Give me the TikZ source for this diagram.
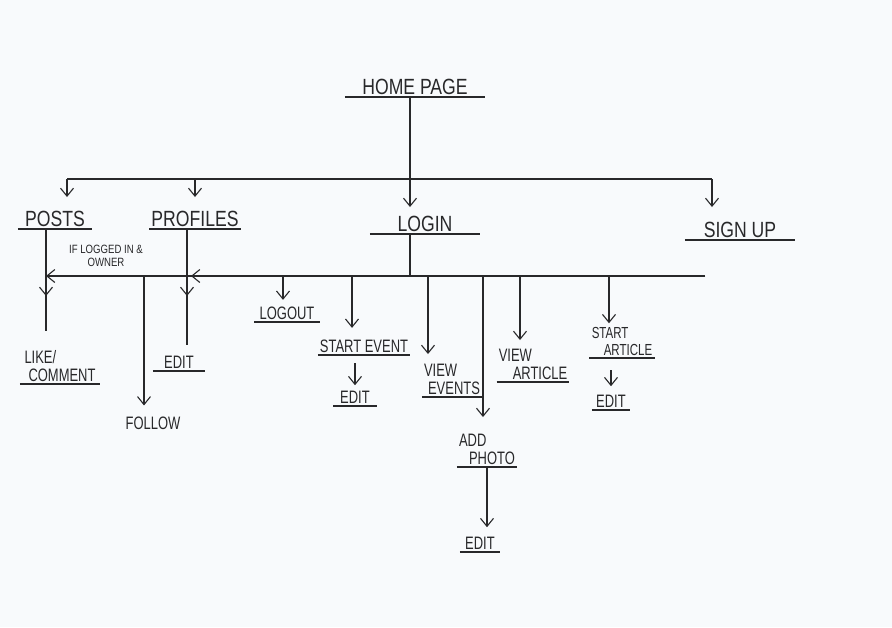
\documentclass[tikz,border=0pt]{standalone}
\usepackage{fontspec}
\setmainfont{Liberation Sans}
\newfontfamily\sketchfont[FakeStretch=0.8]{Liberation Sans}
\newfontfamily\slimfont[FakeStretch=0.72]{Liberation Sans}
\usetikzlibrary{positioning, arrows.meta}
\definecolor{PenGray}{RGB}{40,40,42}
\definecolor{PaperWhite}{RGB}{248,250,252}

\begin{document}
\begin{tikzpicture}[
  x=1pt, y=-1pt,
  head/.style={anchor=south, inner sep=2pt, font=\sketchfont\fontsize{22}{22}\selectfont, text=PenGray},
  page/.style={anchor=south, inner sep=2pt, font=\slimfont\fontsize{18}{18}\selectfont, align=left, text=PenGray},
  note/.style={font=\sketchfont\fontsize{12}{13}\selectfont, align=center, text=PenGray},
  line/.style={PenGray, line width=1.1pt},
  arrow/.style={line, -{Straight Barb[length=8pt, width=13pt]}, shorten >=3pt},
]
\useasboundingbox (0,0) rectangle (892,627);
\fill[PaperWhite] (0,0) rectangle (892,627);

% Top level
\node[head, minimum width=140pt] (home) at (415,97) {HOME PAGE};
\node[head, minimum width=74pt] (posts) at (55,229) {POSTS};
\node[head, minimum width=74pt] (profiles) at (195,229) {PROFILES};
\node[head, minimum width=110pt] (login) at (425,234) {LOGIN};
\node[head, minimum width=110pt] (signup) at (740,240) {SIGN UP};

% Posts / profiles
\node[page, minimum width=80pt] (like) at (60,384) {LIKE/\\\hspace{4pt}COMMENT};
\node[page, minimum width=52pt] (editprof) at (179,371) {EDIT};
\node[page, anchor=center] (follow) at (153,423) {FOLLOW};
\node[note] (cond) at (106,256) {IF LOGGED IN \&\\OWNER};

% Logged in
\node[page, minimum width=65pt] (logout) at (287,322) {LOGOUT};
\node[page, minimum width=72pt] (startev) at (364,355) {START EVENT};
\node[page, minimum width=43pt] (editev) at (355,406) {EDIT};
\node[page, minimum width=57pt] (viewev) at (452,397) {VIEW\\\hspace{4pt}EVENTS};
\node[page, minimum width=43pt] (photo) at (487,467) {ADD\\\hspace{10pt}PHOTO};
\node[page, minimum width=40pt] (editphoto) at (480,552) {EDIT};
\node[page, minimum width=58pt] (viewart) at (533,382) {VIEW\\\hspace{14pt}ARTICLE};
\node[page, minimum width=65pt, font=\slimfont\fontsize{16}{17}\selectfont] (startart) at (622,358) {START\\\hspace{12pt}ARTICLE};
\node[page, minimum width=38pt] (editart) at (611,410) {EDIT};

% Underlines
\foreach \n in {home, posts, profiles, login, signup, like, editprof, logout, startev, editev, viewev, photo, editphoto, viewart, startart, editart}
  \draw[line] (\n.south west) -- (\n.south east);

% Top bus
\coordinate (tl) at (67,179);
\coordinate (tp) at (195,179);
\coordinate (th) at (410,179);
\coordinate (tr) at (712,179);
\draw[line] (tl) -- (tr);
\draw[line] (th |- home.south) -- (th);
\draw[arrow, shorten >=12pt] (tl) -- (tl |- posts.north);
\draw[arrow, shorten >=12pt] (tp) -- (tp |- profiles.north);
\draw[arrow, shorten >=7pt] (th) -- (th |- login.north);
\draw[arrow, shorten >=13pt] (tr) -- (tr |- signup.north);

% Lower bus
\coordinate (pj) at (46,276);
\coordinate (qj) at (187,276);
\coordinate (lj) at (410,276);
\coordinate (br) at (705,276);
\draw[line] (lj |- login.south) -- (lj);
\draw[arrow, shorten >=0pt] (br) -- (pj);
\draw[arrow, shorten >=0pt] (br) -- ([xshift=4pt]qj);

% Posts and profiles lines
\coordinate (pm) at (46,296);
\coordinate (qm) at (187,296);
\draw[line, shorten >=17pt] (pj |- posts.south) -- (pj |- like.north);
\draw[arrow, shorten >=0pt] (pj |- posts.south) -- (pm);
\draw[line, shorten >=9pt] (qj |- profiles.south) -- (qj |- editprof.north);
\draw[arrow, shorten >=0pt] (qj |- profiles.south) -- (qm);

% Branches off the lower bus
\coordinate (fj) at (144,276);
\coordinate (oj) at (283,276);
\coordinate (sj) at (352,276);
\coordinate (vj) at (428,276);
\coordinate (aj) at (483,276);
\coordinate (rj) at (520,276);
\coordinate (cj) at (609,276);
\draw[arrow, shorten >=9pt] (fj) -- (fj |- follow.north);
\draw[arrow, shorten >=5pt] (oj) -- (oj |- logout.north);
\draw[arrow, shorten >=10pt] (sj) -- (sj |- startev.north);
\draw[arrow, shorten >=8pt] (vj) -- (vj |- viewev.north);
\draw[arrow, shorten >=15pt] (aj) -- (aj |- photo.north);
\draw[arrow, shorten >=7pt] (rj) -- (rj |- viewart.north);
\draw[arrow, shorten >=2pt] (cj) -- (cj |- startart.north);

% Edit arrows
\draw[arrow, shorten <=8pt, shorten >=4pt] (editev.north |- startev.south) -- (editev.north);
\draw[arrow, shorten <=1pt, shorten >=8pt] (photo.south) -- (photo.south |- editphoto.north);
\draw[arrow, shorten <=12pt, shorten >=7pt] (editart.north |- startart.south) -- (editart.north);

\end{tikzpicture}
\end{document}
